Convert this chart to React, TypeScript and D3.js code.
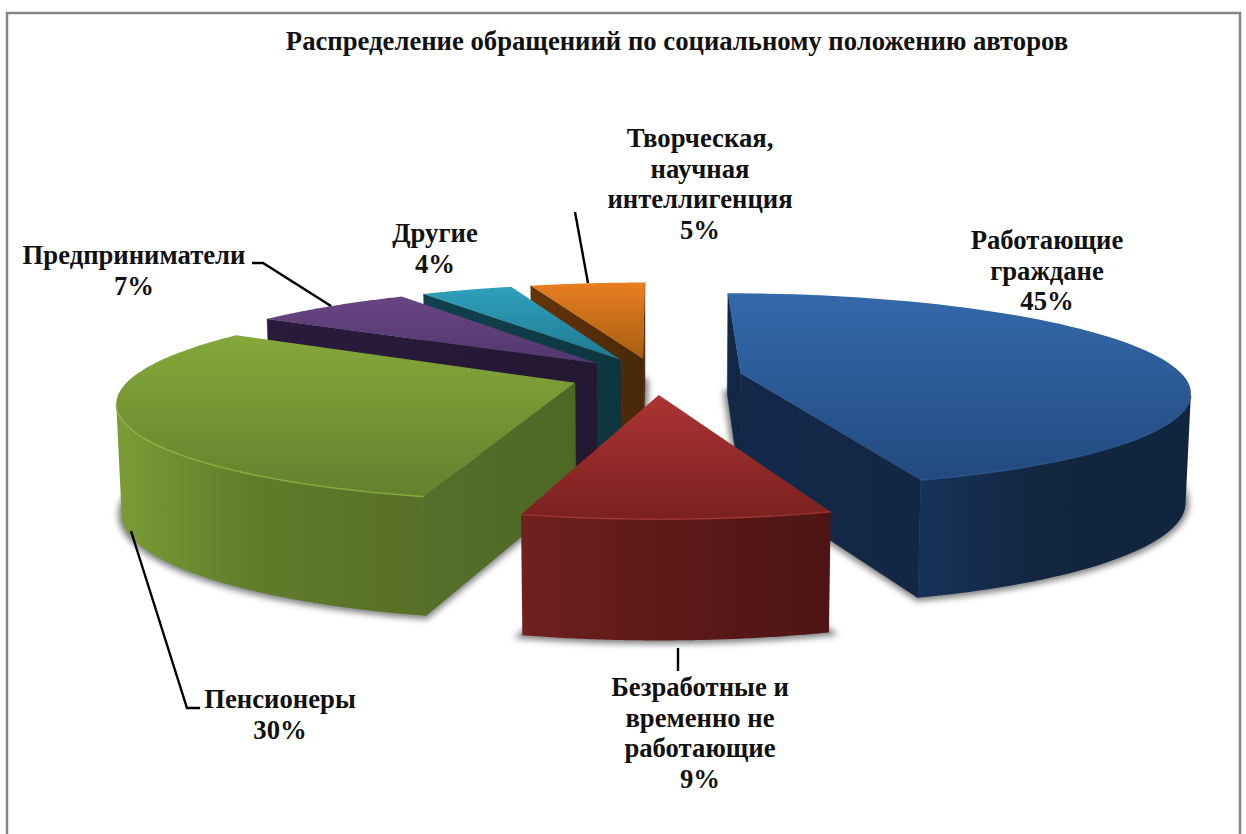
import React from "react";
import * as d3 from "d3";

const width = 1246;
const height = 834;

const title = "Распределение обращениий по социальному положению авторов";
const categories = [
  "Работающие граждане",
  "Безработные и временно не работающие",
  "Пенсионеры",
  "Предприниматели",
  "Другие",
  "Творческая, научная интеллигенция",
];
const shares = [45, 9, 30, 7, 4, 5];
const labelLines = [
  ["Работающие", "граждане"],
  ["Безработные и", "временно не", "работающие"],
  ["Пенсионеры"],
  ["Предприниматели"],
  ["Другие"],
  ["Творческая,", "научная", "интеллигенция"],
];

// top face light/dark, cut face, wall left/mid/right, rim
const palette = [
  { top: ["#3469ab", "#224a80"], cut: ["#14294a", "#122744"], wall: ["#17325a", "#12263f", "#11253f"], rim: "#2a558c" },
  { top: ["#ad3333", "#7a2120"], cut: ["#4a1412", "#4a1412"], wall: ["#6f201f", "#5e1a19", "#4c1513"], rim: "#a33434" },
  { top: ["#84a83a", "#65802e"], cut: ["#55702a", "#4e6725"], wall: ["#7b9c36", "#607c2a", "#576f27"], rim: "#8fb43f" },
  { top: ["#694583", "#52376e"], cut: ["#2a1b3c", "#251832"], wall: ["#2a1b3c", "#251832", "#251832"], rim: "#6b4888" },
  { top: ["#30a0bb", "#1f7a92"], cut: ["#10414e", "#0e3540"], wall: ["#10414e", "#0e3540", "#0e3540"], rim: "#35a5c0" },
  { top: ["#e87e20", "#a95f12"], cut: ["#663509", "#48280a"], wall: ["#663509", "#48280a", "#48280a"], rim: "#f09040" },
];
// painter's order, far slices first
const drawOrder = [5, 4, 3, 2, 0, 1];

// label layout: centre x and first baseline
const labelPos = [
  [1047, 249],
  [700, 696],
  [280, 708],
  [134, 264],
  [435, 242],
  [700, 147],
];
const leaders = [
  [[678, 648], [678, 671]],
  [[131, 531], [187, 708], [200, 708]],
  [[252, 263], [263, 263], [331, 306]],
  [[575, 212], [588, 283]],
];

// perspective pie
const cx = 656;
const cy = 376;
const R = 443;
const explode = 86;
const persp = 0.000396;
const tilt = 0.214;

type P = [number, number];

function project(X: number, Y: number, down: boolean): P {
  const s = 1 / (1 - persp * Y);
  const x = cx + X * s;
  const y = cy + tilt * Y * s;
  if (!down) return [x, y];
  return [cx + (x - cx) * 0.99, y + 58 + 50 * s];
}

// d3.polygonArea is positive for faces turned to the viewer in this winding
const faces = (pts: P[]) => d3.polygonArea(pts) > 0;

const line = d3.line<P>();

function App() {
  const arcs = d3.pie<number>().sort(null).value((d) => d)(shares);

  const slices = drawOrder.map((i) => {
    const a = arcs[i];
    const mid = (a.startAngle + a.endAngle) / 2;
    const ox = explode * Math.sin(mid);
    const oy = -explode * Math.cos(mid);
    const rim = (t: number, down: boolean) =>
      project(ox + R * Math.sin(t), oy - R * Math.cos(t), down);
    const angles = d3.range(0, 81).map((k) => a.startAngle + ((a.endAngle - a.startAngle) * k) / 80);
    const apexTop = project(ox, oy, false);
    const apexBot = project(ox, oy, true);
    const topArc = angles.map((t) => rim(t, false));
    const botArc = angles.map((t) => rim(t, true));

    const startFace: P[] = [apexTop, topArc[0], botArc[0], apexBot];
    const endFace: P[] = [topArc[80], apexTop, apexBot, botArc[80]];

    // keep only wall pieces that face the viewer
    const front = angles
      .slice(0, -1)
      .map((_, k) => k)
      .filter((k) => faces([topArc[k], topArc[k + 1], botArc[k + 1], botArc[k]]));
    let wall = "";
    let rimLine = "";
    if (front.length) {
      const from = front[0];
      const to = front[front.length - 1] + 1;
      const t = topArc.slice(from, to + 1);
      const b = botArc.slice(from, to + 1).reverse();
      wall = line([...t, ...b]) + "Z";
      rimLine = line(t) || "";
    }
    return {
      i,
      top: line([apexTop, ...topArc]) + "Z",
      bottom: line([apexBot, ...botArc]) + "Z",
      startFace: faces(startFace) ? line(startFace) + "Z" : "",
      endFace: faces(endFace) ? line(endFace) + "Z" : "",
      wall,
      rimLine,
    };
  });

  return (
    <svg
      width={width}
      height={height}
      style={{ position: "absolute", left: 0, top: 0, background: "#fff" }}
      fontFamily="'Liberation Serif', serif"
      fontWeight="bold"
    >
      <defs>
        <filter id="soft" x="-10%" y="-10%" width="120%" height="120%">
          <feGaussianBlur stdDeviation="3" />
        </filter>
        {palette.map((c, i) => (
          <React.Fragment key={i}>
            <linearGradient id={`top${i}`} x1="0" y1="0" x2="0" y2="1">
              <stop offset="0" stopColor={c.top[0]} />
              <stop offset="1" stopColor={c.top[1]} />
            </linearGradient>
            <linearGradient id={`cut${i}`} x1="0" y1="0" x2="1" y2="0">
              <stop offset="0" stopColor={c.cut[0]} />
              <stop offset="1" stopColor={c.cut[1]} />
            </linearGradient>
            <linearGradient id={`wall${i}`} x1="0" y1="0" x2="1" y2="0">
              <stop offset="0" stopColor={c.wall[0]} />
              <stop offset="0.45" stopColor={c.wall[1]} />
              <stop offset="1" stopColor={c.wall[2]} />
            </linearGradient>
          </React.Fragment>
        ))}
      </defs>

      <path
        d={`M7,${height}V13H1240V${height}`}
        fill="none"
        stroke="#868686"
        strokeWidth={2.5}
      />

      <text x={677} y={50} textAnchor="middle" fontSize={26.7} fill="#111">
        {title}
      </text>

      {slices.map((s) => (
        <g key={s.i}>
          <path
            d={s.bottom}
            fill="#555"
            stroke="#555"
            strokeWidth={7}
            opacity={0.75}
            filter="url(#soft)"
          />
          {s.endFace && <path d={s.endFace} fill={`url(#cut${s.i})`} stroke={palette[s.i].cut[1]} strokeWidth={0.5} />}
          {s.startFace && <path d={s.startFace} fill={`url(#cut${s.i})`} stroke={palette[s.i].cut[1]} strokeWidth={0.5} />}
          {s.wall && <path d={s.wall} fill={`url(#wall${s.i})`} />}
          <path d={s.top} fill={`url(#top${s.i})`} />
          {s.rimLine && (
            <path d={s.rimLine} fill="none" stroke={palette[s.i].rim} strokeWidth={1.6} opacity={0.8} />
          )}
        </g>
      ))}

      {leaders.map((pts, i) => (
        <path key={i} d={line(pts as P[]) || ""} fill="none" stroke="#000" strokeWidth={2.4} />
      ))}

      {categories.map((name, i) => (
        <text key={name} textAnchor="middle" fontSize={26.7} fill="#111">
          {[...labelLines[i], `${shares[i]}%`].map((t, k) => (
            <tspan key={k} x={labelPos[i][0]} y={labelPos[i][1] + k * 30.7}>
              {t}
            </tspan>
          ))}
        </text>
      ))}
    </svg>
  );
}

export default App;
